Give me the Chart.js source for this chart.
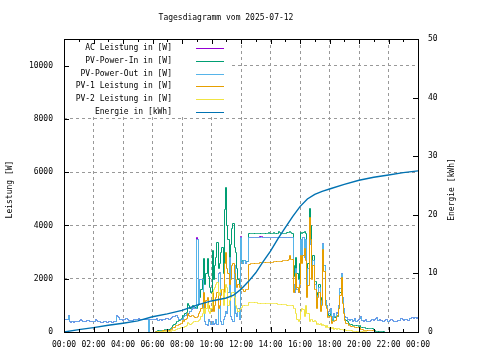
<!DOCTYPE html>
<html><head><meta charset="utf-8">
<script src="https://cdn.jsdelivr.net/npm/chart.js@4.4.0/dist/chart.umd.min.js"></script>
<style>html,body{margin:0;padding:0;background:#fff;}canvas{display:block;}</style>
</head><body>
<canvas id="c" width="480" height="360"></canvas>
<script>
const chartTitle = 'Tagesdiagramm vom 2025-07-12';
const leftAxisTitle = 'Leistung [W]';
const rightAxisTitle = 'Energie [kWh]';
const xTickHours = [0, 2, 4, 6, 8, 10, 12, 14, 16, 18, 20, 22, 24];
const xTickLabels = ['00:00','02:00','04:00','06:00','08:00','10:00','12:00','14:00','16:00','18:00','20:00','22:00','00:00'];
const leftTicks = [0, 2000, 4000, 6000, 8000, 10000];
const rightTicks = [0, 10, 20, 30, 40, 50];
const seriesNames = ['AC Leistung in [W]','PV-Power-In in [W]','PV-Power-Out in [W]','PV-1 Leistung in [W]','PV-2 Leistung in [W]','Energie in [kWh]'];
const seriesColors = ['#9400d3','#009e73','#56b4e9','#e69f00','#f0e442','#0072b2'];
const sampleMinutes = 5; // one value every 5 minutes, 00:00 .. 24:00 (12 values per line = 1 hour)

const acPower = [
480,490,470,650,420,390,400,390,410,420,400,430,
460,490,450,430,420,410,440,460,430,400,420,410,
430,490,460,420,400,380,370,390,400,420,380,370,
400,420,390,380,420,410,640,600,560,480,470,460,
480,500,520,470,460,450,440,460,500,490,480,470,
520,500,470,480,490,500,520,480,0,470,480,470,
480,470,500,520,450,480,470,460,500,480,510,520,
520,500,540,560,590,600,620,640,560,500,480,470,
500,600,650,700,620,700,800,850,900,950,900,3560,
3510,1100,2000,2000,2000,900,400,300,250,500,400,300,
400,300,350,500,300,2200,2260,400,300,500,600,800,
700,1500,2800,600,500,400,2500,700,600,900,500,3620,
2650,2600,2700,2600,2650,2650,3570,3570,3570,3570,3570,3570,
3570,3570,3570,3620,3620,3570,3570,3570,3570,3570,3570,3570,
3570,3570,3570,3570,3570,3570,3570,3570,3570,3570,3570,3570,
3570,3570,3570,3570,3570,3570,1800,1500,2400,1600,1500,2000,
3500,2700,3570,2800,3500,1500,2400,4200,3300,2200,2700,1800,
1800,1000,1400,1700,900,1200,3330,2500,1200,1000,800,700,
900,600,500,700,600,750,700,1000,1650,2200,1300,900,
600,550,500,480,450,480,400,450,520,400,450,480,
520,600,450,430,450,470,420,400,410,450,480,460,
470,520,570,450,480,460,440,430,450,470,480,430,
450,500,480,450,430,420,430,450,460,520,520,480,
450,470,480,460,450,540,560,550,540,550,530,560,
540];

const pvPowerIn = [
null,null,null,null,null,null,null,null,null,null,null,null,
null,null,null,null,null,null,null,null,null,null,null,null,
null,null,null,null,null,null,null,null,null,null,null,null,
null,null,null,null,null,null,null,null,null,null,null,null,
null,null,null,null,null,null,null,null,null,null,null,null,
null,null,null,null,null,null,null,null,null,null,null,null,
null,null,40,50,60,70,80,90,90,100,100,110,
110,130,150,200,250,300,350,400,420,450,500,520,
650,600,700,750,1100,1000,900,950,1000,980,950,900,
1000,1200,1300,1600,2000,2770,1800,2200,2770,2100,1700,1500,
3070,2000,2500,2800,3380,2400,2600,3000,3200,2200,4600,5440,
4000,3500,2800,3300,3900,4100,3200,3000,2400,2000,1800,2650,
2700,2600,2700,2650,2650,2650,3700,3700,3700,3720,3700,3700,
3700,3700,3700,3700,3720,3700,3700,3700,3700,3700,3740,3700,
3700,3700,3760,3700,3700,3700,3780,3760,3720,3700,3700,3700,
3700,3740,3760,3780,3760,3720,2500,2100,2800,2200,2000,2600,
3750,3700,3750,3800,3700,2000,2600,4640,4000,2400,2900,1900,
1900,1100,1500,1800,1000,1300,3300,2500,1200,1000,700,650,
800,550,450,600,550,650,600,900,1500,2100,1200,800,
500,450,400,350,300,290,280,270,260,250,250,240,
250,200,180,170,170,160,160,150,150,140,140,130,
60,50,40,40,30,30,30,20,0,null,null,null,
null,null,null,null,null,null,null,null,null,null,null,null,
null,null,null,null,null,null,null,null,null,null,null,null,
null];

const pvPowerOut = [
480,490,470,650,420,390,400,390,410,420,400,430,
460,490,450,430,420,410,440,460,430,400,420,410,
430,490,460,420,400,380,370,390,400,420,380,370,
400,420,390,380,420,410,640,600,560,480,470,460,
480,500,520,470,460,450,440,460,500,490,480,470,
520,500,470,480,490,500,520,480,0,470,480,470,
480,470,500,520,450,480,470,460,500,480,510,520,
520,500,540,560,590,600,620,640,560,500,480,470,
500,600,650,700,620,700,800,850,900,950,900,3500,
3510,1100,2000,2000,2000,900,400,300,250,500,400,300,
400,300,350,500,300,2200,2260,400,300,500,600,800,
700,1500,2800,600,500,400,2500,700,600,900,500,3570,
2650,2600,2700,2600,2650,2650,3570,3570,3570,3570,3570,3570,
3570,3570,3570,3570,3570,3570,3570,3570,3570,3570,3570,3570,
3570,3570,3570,3570,3570,3570,3570,3570,3570,3570,3570,3570,
3570,3570,3570,3570,3570,3570,1800,1500,2400,1600,1500,2000,
3500,2700,3570,2800,3500,1500,2400,4200,3300,2200,2700,1800,
1800,1000,1400,1700,900,1200,3330,2500,1200,1000,800,700,
900,600,500,700,600,750,700,1000,1650,2200,1300,900,
600,550,500,480,450,480,400,450,520,400,450,480,
520,600,450,430,450,470,420,400,410,450,480,460,
470,520,570,450,480,460,440,430,450,470,480,430,
450,500,480,450,430,420,430,450,460,520,520,480,
450,470,480,460,450,540,560,550,540,550,530,560,
540];

const pv1Power = [
null,null,null,null,null,null,null,null,null,null,null,null,
null,null,null,null,null,null,null,null,null,null,null,null,
null,null,null,null,null,null,null,null,null,null,null,null,
null,null,null,null,null,null,null,null,null,null,null,null,
null,null,null,null,null,null,null,null,null,null,null,null,
null,null,null,null,null,null,null,null,null,null,null,null,
null,null,30,30,40,40,50,50,60,60,60,70,
70,80,100,130,180,200,250,270,280,300,330,350,
450,420,480,520,700,650,600,620,620,600,560,560,
600,700,800,900,1100,1500,900,1200,1300,1000,900,800,
1500,800,1000,1300,1500,900,1000,1400,1600,1200,2600,3000,
2400,2200,1800,2000,2500,2600,2200,2000,1700,1800,1700,1700,
1600,1600,1550,1600,1600,1600,2570,2580,2580,2590,2590,2600,
2600,2600,2600,2610,2610,2610,2620,2620,2620,2630,2630,2630,
2640,2640,2650,2650,2650,2660,2660,2670,2680,2690,2700,2700,
2710,2720,2740,2880,2750,2750,1510,1600,2200,1700,1500,1800,
2900,2600,2900,3150,2700,1300,1760,4320,3500,2000,2500,1600,
1600,900,1300,1500,800,1000,3100,2300,1000,900,550,600,
600,320,400,420,450,600,650,900,1400,2070,1100,700,
450,350,320,280,250,230,220,210,200,200,190,180,
180,100,95,90,90,85,80,80,75,70,65,60,
0,null,null,null,null,null,null,null,null,null,null,null,
null,null,null,null,null,null,null,null,null,null,null,null,
null,null,null,null,null,null,null,null,null,null,null,null,
null];

const pv2Power = [
null,null,null,null,null,null,null,null,null,null,null,null,
null,null,null,null,null,null,null,null,null,null,null,null,
null,null,null,null,null,null,null,null,null,null,null,null,
null,null,null,null,null,null,null,null,null,null,null,null,
null,null,null,null,null,null,null,null,null,null,null,null,
null,null,null,null,null,null,null,null,null,null,null,null,
null,null,10,10,20,20,30,30,30,30,40,40,
40,45,50,60,70,90,100,120,140,160,170,180,
200,180,230,250,380,350,300,330,380,400,400,420,
420,450,500,600,700,900,700,900,1100,800,700,900,
1500,1600,1700,1800,1870,1400,1500,1600,1600,1000,1500,1800,
1700,1000,1200,1300,1500,1500,1300,1000,900,800,850,900,
950,1000,1010,1000,1000,1000,1120,1120,1120,1110,1110,1110,
1110,1100,1100,1100,1100,1100,1090,1090,1090,1090,1080,1080,
1080,1080,1070,1070,1070,1060,1060,1060,1050,1050,1050,1040,
1040,1030,1020,1020,1010,1000,900,900,700,500,400,500,
800,900,850,600,1000,700,700,400,500,500,400,450,
400,300,350,300,350,250,300,250,200,250,200,200,
200,150,170,130,150,130,150,150,130,100,100,90,
100,80,70,70,60,60,50,50,50,40,40,40,
30,30,30,20,20,20,10,10,0,null,null,null,
null,null,null,null,null,null,null,null,null,null,null,null,
null,null,null,null,null,null,null,null,null,null,null,null,
null,null,null,null,null,null,null,null,null,null,null,null,
null];

const energyHours = [0,1,2,3,4,5,6,7,8,9,10,11,11.5,12,12.5,13,13.5,14,14.5,15,15.5,16,16.5,17,17.5,18,19,20,21,22,23,24];
const energyKWh = [0,0.4,0.75,1.15,1.5,1.9,2.6,3.1,3.7,4.6,5.3,5.8,6.3,7.3,8.6,10.1,12.0,13.8,15.9,17.8,19.7,21.4,22.7,23.5,24.0,24.4,25.2,25.9,26.4,26.8,27.2,27.5];

const FONT_FAMILY = '"DejaVu Sans Mono", monospace';
const FONT = '8px ' + FONT_FAMILY;

const toPoints = arr => arr.map((v, i) => ({x: i * sampleMinutes / 60, y: v}));
const powerSeries = [acPower, pvPowerIn, pvPowerOut, pv1Power, pv2Power];

const datasets = powerSeries.map((arr, k) => ({
  label: seriesNames[k], data: toPoints(arr), borderColor: seriesColors[k],
  borderWidth: 1, pointRadius: 0, fill: false, stepped: true, yAxisID: 'y', order: 6 - k
}));
datasets.push({
  label: seriesNames[5], data: energyHours.map((h, i) => ({x: h, y: energyKWh[i]})),
  borderColor: seriesColors[5], borderWidth: 1.4, pointRadius: 0, fill: false, yAxisID: 'y2', order: 0
});

const px = v => Math.round(v) + 0.5;

const overlay = {
  id: 'overlay',
  beforeDatasetsDraw(chart) {
    const {ctx, chartArea: a} = chart;
    // snap the library-computed point positions to the pixel grid for crisp 1px lines
    chart.getSortedVisibleDatasetMetas().forEach(meta => {
      if (meta.yAxisID === 'y2') return;
      meta.data.forEach(p => { if (!p.skip) { p.x = px(p.x); p.y = px(p.y); } });
    });
    ctx.save();
    ctx.fillStyle = '#fff';
    ctx.fillRect(a.left + 1, a.top + 1, 165, 77);
    ctx.font = FONT; ctx.textAlign = 'right'; ctx.textBaseline = 'middle';
    chart.data.datasets.forEach((ds, k) => {
      const y = a.top + 9 + k * 12.8;
      ctx.fillStyle = '#000';
      ctx.fillText(ds.label, a.left + 108, y);
      ctx.strokeStyle = ds.borderColor; ctx.lineWidth = 1;
      ctx.beginPath(); ctx.moveTo(a.left + 132, px(y)); ctx.lineTo(a.left + 160, px(y)); ctx.stroke();
    });
    ctx.restore();
  },
  afterDatasetsDraw(chart) {
    const {ctx, chartArea: a, scales} = chart;
    ctx.save();
    ctx.strokeStyle = '#000'; ctx.lineWidth = 1;
    const L = Math.round(a.left), R = Math.round(a.right), T = Math.round(a.top), B = Math.round(a.bottom);
    ctx.strokeRect(L + 0.5, T + 0.5, R - L, B - T);
    const seg = (x1, y1, x2, y2) => { ctx.beginPath(); ctx.moveTo(x1, y1); ctx.lineTo(x2, y2); ctx.stroke(); };
    for (let h = 0; h <= 24; h++) {
      const X = px(scales.x.getPixelForValue(h));
      const len = h % 2 === 0 ? 5 : 3;
      seg(X, B, X, B - len); seg(X, T, X, T + len);
    }
    leftTicks.forEach(v => { const Y = px(scales.y.getPixelForValue(v)); seg(L, Y, L + 5, Y); });
    rightTicks.forEach(v => { const Y = px(scales.y2.getPixelForValue(v)); seg(R, Y, R - 5, Y); });
    ctx.restore();
  },
  afterDraw(chart) {
    const {ctx, chartArea: a} = chart;
    ctx.save();
    ctx.font = FONT; ctx.fillStyle = '#000'; ctx.textAlign = 'center'; ctx.textBaseline = 'middle';
    ctx.fillText(chartTitle, 226, 18);
    ctx.translate(10, (a.top + a.bottom) / 2 + 4); ctx.rotate(-Math.PI / 2);
    ctx.fillText(leftAxisTitle, 0, 0);
    ctx.restore();
    ctx.save();
    ctx.font = FONT; ctx.fillStyle = '#000'; ctx.textAlign = 'center'; ctx.textBaseline = 'middle';
    ctx.translate(452, (a.top + a.bottom) / 2 + 4); ctx.rotate(-Math.PI / 2);
    ctx.fillText(rightAxisTitle, 0, 0);
    ctx.restore();
  }
};

const tickFont = {family: FONT_FAMILY, size: 8};

new Chart(document.getElementById('c'), {
  type: 'line',
  data: {datasets},
  plugins: [overlay],
  options: {
    responsive: false, animation: false, devicePixelRatio: 1,
    layout: {padding: {top: 39, left: 0, right: 0, bottom: 0}, autoPadding: false},
    plugins: {legend: {display: false}, tooltip: {enabled: false}, title: {display: false}},
    scales: {
      x: {
        type: 'linear', min: 0, max: 24,
        afterFit: s => { s.height = 28; },
        afterBuildTicks: s => { s.ticks = xTickHours.map(v => ({value: v})); },
        ticks: {autoSkip: false, maxRotation: 0, padding: 8, color: '#000', font: tickFont,
          callback: (v, i) => xTickLabels[i]},
        grid: {color: '#999999', lineWidth: 1, drawTicks: false},
        border: {display: false, dash: [3, 3]}
      },
      y: {
        type: 'linear', position: 'left', min: 0, max: 11000,
        afterFit: s => { s.width = 64; },
        afterBuildTicks: s => { s.ticks = leftTicks.map(v => ({value: v})); },
        ticks: {autoSkip: false, padding: 11, color: '#000', font: tickFont, callback: v => String(v)},
        grid: {color: '#999999', lineWidth: 1, drawTicks: false},
        border: {display: false, dash: [3, 3]}
      },
      y2: {
        type: 'linear', position: 'right', min: 0, max: 50,
        afterFit: s => { s.width = 62; },
        afterBuildTicks: s => { s.ticks = rightTicks.map(v => ({value: v})); },
        ticks: {autoSkip: false, padding: 10, color: '#000', font: tickFont, callback: v => String(v)},
        grid: {display: false, drawTicks: false},
        border: {display: false}
      }
    }
  }
});
</script>
</body></html>
